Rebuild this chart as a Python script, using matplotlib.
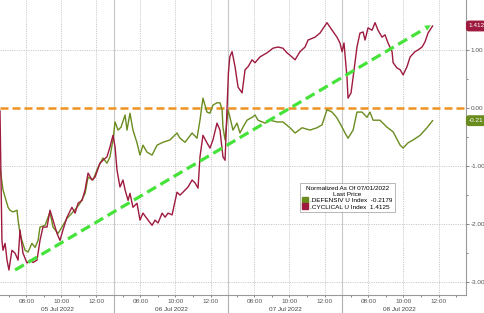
import matplotlib
matplotlib.use("Agg")
import matplotlib.pyplot as plt
from matplotlib.lines import Line2D
import matplotlib.transforms as mtransforms

plt.rcParams['font.family'] = ['Liberation Sans', 'DejaVu Sans']

# ---- data: hours into the 4-session window (each session 06:30-13:00), % change normalized as of 07/01/2022
days = ["05 Jul 2022", "06 Jul 2022", "07 Jul 2022", "08 Jul 2022"]
session_start_hour = 6.5
session_len = 6.5
tick_hours = [8, 10, 12]
tick_labels = ["08:00", "10:00", "12:00"]
y_ticks = [1.0, 0.0, -1.0, -2.0, -3.0]

cyc_t = [0.00, 0.11, 0.17, 0.29, 0.40, 0.51, 0.68, 0.86, 1.03, 1.14, 1.31, 1.54, 1.71, 1.88, 2.11,
         2.28, 2.45, 2.68, 2.85, 3.02, 3.25, 3.42, 3.59, 3.82, 4.10, 4.28, 4.45, 4.68, 4.85, 5.02,
         5.25, 5.42, 5.70, 5.87, 6.10, 6.27, 6.44,
         6.56, 6.67, 6.84, 7.01, 7.13, 7.30, 7.41, 7.58, 7.81, 7.98, 8.15, 8.44, 8.67, 8.84, 9.01,
         9.24, 9.41, 9.58, 9.81, 10.09, 10.26, 10.43, 10.72, 10.95, 11.12, 11.29, 11.40, 11.57,
         11.80, 11.97, 12.14, 12.37, 12.54, 12.71, 12.83,
         13.02, 13.10, 13.23, 13.40, 13.57, 13.80, 13.97, 14.14, 14.37, 14.54, 14.82, 15.22, 15.56,
         15.85, 16.13, 16.36, 16.53, 16.82, 17.10, 17.39, 17.56, 17.96, 18.24, 18.64, 18.93, 19.21,
         19.38, 19.50,
         19.61, 19.78, 19.84, 20.01, 20.13, 20.35, 20.52, 20.70, 20.81, 20.98, 21.21, 21.38, 21.55,
         21.78, 21.95, 22.12, 22.35, 22.41, 22.63, 22.81, 22.98, 23.20, 23.38, 23.66, 23.83, 24.06,
         24.23, 24.40, 24.66]
cyc_v = [-0.05, -2.28, -2.45, -2.33, -2.62, -2.79, -2.45, -2.50, -2.62, -2.10, -2.50, -2.67, -2.62, -2.66, -2.62,
         -2.28, -2.05, -2.05, -1.76, -1.93, -2.16, -2.28, -2.10, -1.88, -1.71, -1.81, -1.64, -1.59, -1.41, -1.12,
         -1.24, -1.19, -0.95, -0.90, -0.84, -0.67, -0.47,
         -0.67, -1.07, -1.36, -1.24, -1.41, -1.59, -1.47, -1.71, -1.64, -1.93, -1.81, -1.93, -2.02, -1.93, -1.98,
         -1.81, -1.88, -1.81, -1.84, -1.45, -1.50, -1.45, -1.36, -1.24, -1.29, -1.38, -0.84, -0.47,
         -0.60, -0.69, -0.55, -0.26, -0.38, -0.84, -0.90,
         0.60, 0.88, 0.97, 0.71, 0.36, 0.26, 0.66, 0.71, 0.83, 0.78, 0.88, 0.95, 1.03,
         1.05, 1.03, 0.95, 0.91, 0.83, 0.97, 1.05, 1.17, 1.22, 1.29, 1.47, 1.34, 1.22,
         1.12, 0.97,
         1.12, 0.53, 0.17, 0.26, 0.53, 1.05, 1.29, 1.31, 1.17, 1.38, 1.34, 1.47, 1.34,
         1.22, 1.26, 1.12, 0.97, 0.78, 0.69, 0.66, 0.57, 0.71, 0.88, 0.97, 1.00, 1.05,
         1.14, 1.29, 1.4125]

def_t = [0.00, 0.17, 0.46, 0.57, 0.74, 0.97, 1.03, 1.14, 1.25, 1.43, 1.60, 1.82, 2.00, 2.17, 2.28,
         2.57, 2.85, 3.02, 3.31, 3.53, 3.82, 4.10, 4.39, 4.56, 4.85, 5.02, 5.30, 5.59, 5.87, 6.10,
         6.27, 6.44,
         6.56, 6.73, 6.90, 7.13, 7.24, 7.41, 7.58, 7.81, 7.98, 8.15, 8.38, 8.67, 8.95, 9.29, 9.69,
         10.09, 10.26, 10.55, 10.95, 11.23, 11.40, 11.57, 11.80, 11.97, 12.14, 12.37, 12.54, 12.66,
         12.71, 12.83,
         12.94, 13.00, 13.11, 13.28, 13.51, 13.68, 13.85, 14.08, 14.37, 14.54, 14.71, 15.11, 15.39,
         15.79, 16.13, 16.53, 16.82, 17.22, 17.67, 18.07, 18.36, 18.64, 18.93, 19.21, 19.50,
         19.67, 19.84, 20.13, 20.35, 20.64, 20.92, 21.09, 21.27, 21.66, 22.06, 22.41, 22.81, 22.98,
         23.26, 23.55, 23.95, 24.34, 24.66]
def_v = [-1.02, -1.41, -1.71, -1.76, -1.79, -1.76, -1.93, -2.16, -2.28, -2.45, -2.48, -2.33, -2.40, -2.28, -2.05,
         -2.02, -1.79, -2.05, -2.16, -2.05, -1.90, -1.81, -1.71, -1.64, -1.47, -1.19, -1.24, -1.02, -0.86, -0.95,
         -0.84, -0.55,
         -0.24, -0.38, -0.33, -0.12, -0.38, -0.09, -0.38, -0.60, -0.81, -0.64, -0.76, -0.81, -0.64, -0.59, -0.55,
         -0.43, -0.52, -0.59, -0.43, -0.52, -0.21, 0.17, -0.07, -0.09, 0.05, 0.09, 0.09, -0.03,
         -0.33, -0.55,
         -0.21, -0.03, -0.16, -0.38, -0.26, -0.43, -0.33, -0.21, -0.16, -0.12, -0.21, -0.26, -0.21,
         -0.24, -0.24, -0.34, -0.43, -0.34, -0.38, -0.34, -0.29, -0.03, -0.07, -0.17, -0.33,
         -0.43, -0.52, -0.38, -0.07, -0.07, -0.16, -0.07, -0.21, -0.21, -0.33, -0.41, -0.64, -0.69,
         -0.60, -0.55, -0.47, -0.34, -0.2179]

def_last = -0.2179
cyc_last = 1.4125
arrow_start = (0.86, -2.79)
arrow_end = (24.69, 1.45)

# ---- styling
RED = "#9e1a3e"
GREEN = "#6a8c1f"
ORANGE = "#ee9322"
LIME = "#45e33a"
GRID = "#b8b8b8"

fig = plt.figure(figsize=(4.85, 3.13), dpi=100)
ax = fig.add_axes([0.0, 0.0575, 0.961, 0.9425])
ax.set_xlim(0, 26.57)
ax.set_ylim(-3.22, 1.86)

# grid
for d in range(len(days)):
    for h in tick_hours:
        ax.axvline(d * session_len + h - session_start_hour, color=GRID, lw=0.6,
                   ls=(0, (1.2, 1.6)), zorder=0)
for yv in y_ticks:
    if yv != 0:
        ax.axhline(yv, color=GRID, lw=0.6, ls=(0, (1.2, 1.6)), zorder=0)
# session separators
for d in range(1, len(days)):
    ax.axvline(d * session_len, color="#c8c8c8", lw=0.8, zorder=0)
    ax.plot([d * session_len] * 2, [0, -0.062], transform=mtransforms.blended_transform_factory(ax.transData, ax.transAxes),
            color="#b0b0b0", lw=0.8, clip_on=False)

ax.axhline(0, color=ORANGE, lw=1.8, ls=(0, (3.2, 1.6)), zorder=2)

ax.plot(def_t, def_v, color=GREEN, lw=1.0, zorder=3)
ax.plot(cyc_t, cyc_v, color=RED, lw=1.0, zorder=4)

# trend arrow
frac = 0.975
mid = (arrow_start[0] + (arrow_end[0] - arrow_start[0]) * frac,
       arrow_start[1] + (arrow_end[1] - arrow_start[1]) * frac)
ax.plot([arrow_start[0], mid[0]], [arrow_start[1], mid[1]], color=LIME, lw=2.3,
        ls=(0, (3.2, 1.6)), zorder=5, solid_capstyle='butt')
ax.annotate("", xy=arrow_end, xytext=(arrow_start[0] + (arrow_end[0] - arrow_start[0]) * 0.95,
                                      arrow_start[1] + (arrow_end[1] - arrow_start[1]) * 0.95),
            arrowprops=dict(arrowstyle="-|>", color=LIME, lw=0.1, mutation_scale=10), zorder=6)

# axes styling
for s in ["left", "top"]:
    ax.spines[s].set_visible(False)
ax.spines["right"].set_color("#999999")
ax.spines["bottom"].set_color("#999999")
ax.spines["right"].set_linewidth(0.8)
ax.spines["bottom"].set_linewidth(0.8)
ax.yaxis.tick_right()
ax.set_yticks(y_ticks)
ax.set_yticklabels([f"{v:.2f}" for v in y_ticks])
ax.set_yticks([-2.5, -1.5, -0.5, 0.5, 1.5], minor=True)
ax.tick_params(axis="y", which="both", labelsize=4.6, colors="#555555", length=2, width=0.5, pad=1.5)
ax.tick_params(axis="y", which="minor", length=1.2)

xt, xl = [], []
for d in range(len(days)):
    for h, lab in zip(tick_hours, tick_labels):
        xt.append(d * session_len + h - session_start_hour)
        xl.append(lab)
ax.set_xticks(xt)
ax.set_xticklabels(xl)
minor = [d * session_len + h - session_start_hour for d in range(len(days)) for h in range(7, 14)]
ax.set_xticks(minor, minor=True)
ax.tick_params(axis="x", which="both", labelsize=4.6, colors="#555555", length=1.5, width=0.5, pad=1.2)
ax.tick_params(axis="x", which="minor", length=1.2)
trans = mtransforms.blended_transform_factory(ax.transData, ax.transAxes)
for d, lab in enumerate(days):
    ax.text(d * session_len + session_len / 2, -0.042, lab, transform=trans, ha="center", va="top",
            fontsize=4.6, color="#444444")

# value tags on right axis
ax.text(1.006, cyc_last, f"{cyc_last:.4f}"[:5], transform=mtransforms.blended_transform_factory(ax.transAxes, ax.transData),
        ha="left", va="center", fontsize=4.6, color="white", clip_on=False,
        bbox=dict(boxstyle="round,pad=0.35", fc=RED, ec=RED))
ax.text(1.006, def_last, f"{def_last:.4f}"[:5], transform=mtransforms.blended_transform_factory(ax.transAxes, ax.transData),
        ha="left", va="center", fontsize=4.6, color="white", clip_on=False,
        bbox=dict(boxstyle="round,pad=0.35", fc=GREEN, ec=GREEN))

# legend
handles = [Line2D([], [], marker="s", ls="none", color=GREEN, markersize=4),
           Line2D([], [], marker="s", ls="none", color=RED, markersize=4)]
labels = [f".DEFENSIV U Index  {def_last:.4f}", f".CYCLICAL U Index  {cyc_last:.4f}"]
leg = ax.legend(handles, labels, title="Normalized As Of 07/01/2022\nLast Price",
                loc="upper left", bbox_to_anchor=(0.643, 0.378), fontsize=4.6, title_fontsize=4.6,
                frameon=True, fancybox=False, edgecolor="#999999", handlelength=0.8, handletextpad=0.4,
                borderpad=0.4, labelspacing=0.15, borderaxespad=0)
leg.get_frame().set_linewidth(0.6)
leg.get_title().set_multialignment("center")
leg.set_zorder(10)

fig.savefig("out.png", dpi=100)
